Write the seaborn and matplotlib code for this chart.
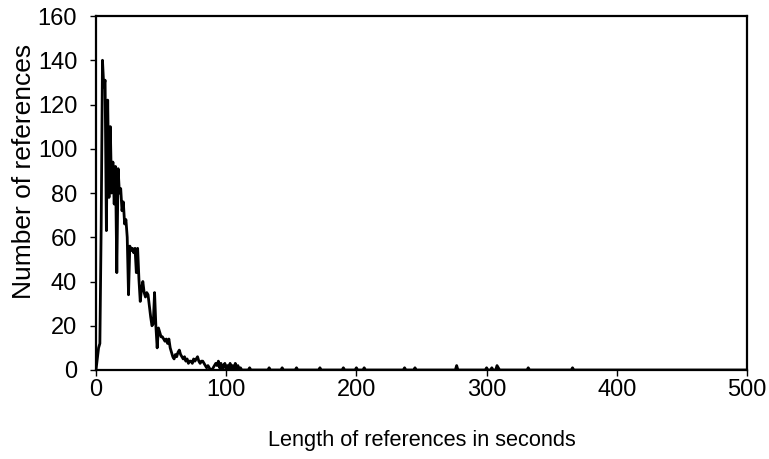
import numpy as np
import pandas as pd
import matplotlib
matplotlib.use('Agg')
import matplotlib.pyplot as plt
import seaborn as sns

# number of references for each length (seconds 0..113)
head_counts = [0, 5, 10, 12, 65, 140, 128, 131, 63, 122,
               78, 110, 80, 94, 75, 92, 44, 91, 80, 82,
               72, 76, 66, 68, 60, 34, 56, 54, 55, 53,
               55, 44, 55, 41, 31, 37, 40, 35, 33, 35,
               34, 29, 24, 20, 21, 35, 20, 10, 19, 17,
               15, 15, 14, 13, 14, 12, 14, 10, 8, 6,
               5, 7, 6, 8, 9, 7, 6, 5, 6, 4,
               5, 3, 4, 4, 3, 5, 4, 5, 6, 4,
               3, 4, 4, 3, 2, 1, 2, 1, 0, 0,
               1, 2, 3, 2, 4, 1, 3, 0, 2, 3,
               0, 2, 0, 3, 0, 2, 0, 3, 0, 2,
               0, 1, 0, 0]
# isolated long references further out
tail_seconds = [118, 133, 143, 154, 172, 190, 200, 206, 237, 245, 277, 300, 304, 308, 309, 332, 366]
tail_counts = [1, 1, 1, 1, 1, 1, 1, 1, 1, 1, 2, 1, 1, 2, 1, 1, 1]
max_seconds = 500

counts = np.zeros(max_seconds + 1)
counts[:len(head_counts)] = head_counts
counts[tail_seconds] = tail_counts
df = pd.DataFrame({'seconds': np.arange(max_seconds + 1), 'count': counts})

sns.set_style('ticks')
plt.rcParams['font.family'] = ['Liberation Sans', 'DejaVu Sans']
plt.rcParams['text.color'] = 'black'
plt.rcParams['axes.labelcolor'] = 'black'
plt.rcParams['xtick.color'] = 'black'
plt.rcParams['ytick.color'] = 'black'

fig = plt.figure(figsize=(7.69, 4.59), dpi=100)
ax = fig.add_axes([0.1248, 0.1939, 0.8466, 0.7712])
sns.lineplot(data=df, x='seconds', y='count', color='black', linewidth=2.0, ax=ax)

ax.set_xlim(0, 500)
ax.set_ylim(0, 160)
ax.set_xticks(range(0, 501, 100))
ax.set_yticks(range(0, 161, 20))
ax.tick_params(axis='both', labelsize=17, length=4.5, width=1, direction='out')
ax.tick_params(axis='x', pad=2)
ax.tick_params(axis='y', pad=9)
for s in ax.spines.values():
    s.set_visible(True)
    s.set_color('black')
    s.set_linewidth(1.6)

ax.set_xlabel('Length of references in seconds', fontsize=15.7)
ax.set_ylabel('Number of references', fontsize=19)
ax.xaxis.set_label_coords(0.5, -0.17)
ax.yaxis.set_label_coords(-0.092, 0.56)

fig.savefig('out.png', dpi=100)
